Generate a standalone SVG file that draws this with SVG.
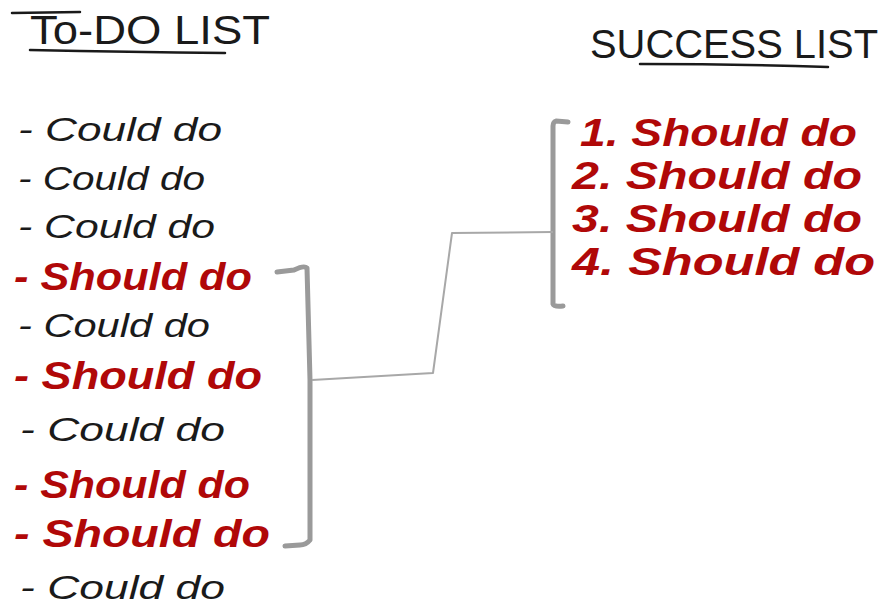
<svg xmlns="http://www.w3.org/2000/svg" width="888" height="606" viewBox="0 0 888 606">
<style>
.hdr{font-family:"Liberation Sans","DejaVu Sans",sans-serif;font-size:40px;fill:#1a1a1a;}
.could{font-family:"Liberation Sans","DejaVu Sans",sans-serif;font-size:34px;font-style:italic;fill:#1a1a1a;}
.should{font-family:"Liberation Sans","DejaVu Sans",sans-serif;font-size:38px;font-style:italic;font-weight:bold;fill:#b00808;}
.pen{stroke:#1a1a1a;stroke-width:2.5;fill:none;stroke-linecap:round;}
.brk{stroke:#9a9a9a;stroke-width:5;fill:none;stroke-linecap:round;stroke-linejoin:round;}
.con{stroke:#a8a8a8;stroke-width:2;fill:none;stroke-linejoin:round;}
</style>
<rect width="888" height="606" fill="#ffffff"/>
<g id="todo-header">
<path class="pen" d="M12 13 L80 12"/>
<text class="hdr" x="30" y="44" textLength="240" lengthAdjust="spacingAndGlyphs">To-DO LIST</text>
<path class="pen" d="M30 50 Q130 52 225 53"/>
</g>
<g id="success-header">
<text class="hdr" x="590" y="58" textLength="288" lengthAdjust="spacingAndGlyphs">SUCCESS LIST</text>
<path class="pen" d="M640 64 Q735 64 828 67"/>
</g>
<g id="todo-1"><text class="could" x="18" y="141" textLength="204" lengthAdjust="spacingAndGlyphs">- Could do</text></g>
<g id="todo-2"><text class="could" x="18" y="190" textLength="187" lengthAdjust="spacingAndGlyphs">- Could do</text></g>
<g id="todo-3"><text class="could" x="18" y="238" textLength="197" lengthAdjust="spacingAndGlyphs">- Could do</text></g>
<g id="todo-4"><text class="should" x="14" y="290" textLength="238" lengthAdjust="spacingAndGlyphs">- Should do</text></g>
<g id="todo-5"><text class="could" x="18" y="337" textLength="192" lengthAdjust="spacingAndGlyphs">- Could do</text></g>
<g id="todo-6"><text class="should" x="14" y="389" textLength="248" lengthAdjust="spacingAndGlyphs">- Should do</text></g>
<g id="todo-7"><text class="could" x="20" y="441" textLength="205" lengthAdjust="spacingAndGlyphs">- Could do</text></g>
<g id="todo-8"><text class="should" x="14" y="498" textLength="236" lengthAdjust="spacingAndGlyphs">- Should do</text></g>
<g id="todo-9"><text class="should" x="14" y="547" textLength="256" lengthAdjust="spacingAndGlyphs">- Should do</text></g>
<g id="todo-10"><text class="could" x="20" y="599" textLength="205" lengthAdjust="spacingAndGlyphs">- Could do</text></g>
<g id="success-1"><text class="should" x="580" y="146" textLength="277" lengthAdjust="spacingAndGlyphs">1. Should do</text></g>
<g id="success-2"><text class="should" x="572" y="189" textLength="290" lengthAdjust="spacingAndGlyphs">2. Should do</text></g>
<g id="success-3"><text class="should" x="572" y="232" textLength="290" lengthAdjust="spacingAndGlyphs">3. Should do</text></g>
<g id="success-4"><text class="should" x="572" y="275" textLength="303" lengthAdjust="spacingAndGlyphs">4. Should do</text></g>
<g id="connectors">
<path class="brk" d="M277 272 L294 270 Q304 265 307 268 L310 380 L310 540 Q306 545 300 545 L285 546"/>
<path class="brk" d="M568 122 L556 121 Q553 122 553 126 L553 304 Q554 307 563 306"/>
<path class="con" d="M312 380 L433 373 L452 233 L553 232"/>
</g>
</svg>
